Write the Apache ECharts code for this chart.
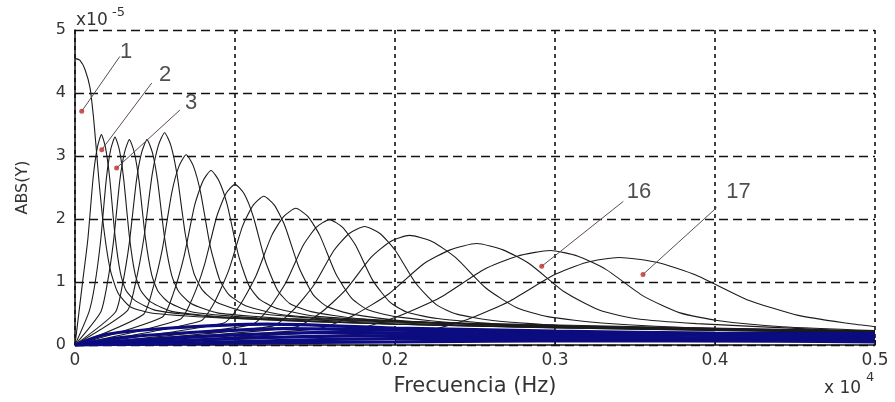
<!DOCTYPE html>
<html><head><meta charset="utf-8">
<script src="https://cdn.jsdelivr.net/npm/echarts@6.0.0/dist/echarts.min.js"></script>
<style>html,body{margin:0;padding:0;background:#fff}#c{width:895px;height:402px}</style>
</head><body><div id="c"></div>
<script>
// Axis ticks
const xTickLabels = ['0','0.1','0.2','0.3','0.4','0.5'];
const yTickLabels = ['0','1','2','3','4','5'];

// Curves (x in units of 1e4 Hz, y in units of 1e-5)
const c1 = [[0,4.55],[0.003,4.52],[0.0063,4.37],[0.0094,4.08],[0.0115,3.63],[0.013,3.2],[0.015,2.6],[0.018,1.85],[0.022,1.2],[0.027,0.82],[0.035,0.6],[0.05,0.5],[0.1,0.42],[0.2,0.33],[0.35,0.25],[0.5,0.2]];
const c2 = [[0,0],[0.0046,0.97],[0.008,1.67],[0.0114,2.67],[0.014,3.14],[0.0165,3.34],[0.019,3.14],[0.0216,2.67],[0.025,1.74],[0.0284,1.14],[0.0318,0.87],[0.0378,0.70],[0.0505,0.55],[0.0845,0.45],[0.15,0.37],[0.3,0.27],[0.5,0.2]];
const c3 = [[0,0],[0.0088,0.53],[0.0124,0.96],[0.016,1.65],[0.0196,2.64],[0.0223,3.10],[0.025,3.30],[0.0277,3.10],[0.0304,2.64],[0.034,1.72],[0.0376,1.12],[0.0412,0.86],[0.0475,0.68],[0.061,0.53],[0.097,0.44],[0.2,0.33],[0.35,0.26],[0.5,0.2]];
const c4 = [[0,0],[0.016,0.52],[0.020,0.95],[0.024,1.63],[0.028,2.61],[0.031,3.06],[0.034,3.26],[0.037,3.06],[0.040,2.61],[0.044,1.70],[0.048,1.11],[0.052,0.85],[0.059,0.67],[0.074,0.52],[0.114,0.43],[0.25,0.31],[0.5,0.2]];
const c5 = [[0,0],[0.0252,0.52],[0.0296,0.95],[0.034,1.63],[0.0384,2.61],[0.0417,3.06],[0.045,3.26],[0.0483,3.06],[0.0516,2.61],[0.056,1.70],[0.0604,1.11],[0.0648,0.85],[0.0725,0.66],[0.089,0.51],[0.133,0.42],[0.3,0.29],[0.5,0.21]];
const c6 = [[0,0],[0.0326,0.54],[0.0378,0.98],[0.043,1.69],[0.0482,2.70],[0.0521,3.17],[0.056,3.37],[0.0599,3.17],[0.0638,2.70],[0.069,1.75],[0.0742,1.15],[0.0794,0.88],[0.0885,0.68],[0.108,0.52],[0.16,0.41],[0.3,0.3],[0.5,0.21]];
const c7 = [[0,0],[0.0425,0.48],[0.0485,0.88],[0.0545,1.51],[0.0605,2.42],[0.065,2.84],[0.0695,3.02],[0.074,2.84],[0.0785,2.42],[0.0845,1.57],[0.0905,1.03],[0.0965,0.79],[0.107,0.62],[0.1295,0.48],[0.19,0.38],[0.35,0.27],[0.5,0.22]];
const c8 = [[0,0],[0.0544,0.44],[0.0612,0.80],[0.068,1.39],[0.0748,2.22],[0.0799,2.60],[0.085,2.77],[0.0901,2.60],[0.0952,2.22],[0.102,1.44],[0.1088,0.94],[0.1156,0.72],[0.1275,0.57],[0.153,0.45],[0.221,0.36],[0.5,0.22]];
const c9 = [[0,0],[0.0658,0.41],[0.0734,0.74],[0.081,1.28],[0.0886,2.04],[0.0943,2.40],[0.1,2.55],[0.1057,2.40],[0.1114,2.04],[0.119,1.33],[0.1266,0.87],[0.1342,0.66],[0.1475,0.53],[0.176,0.42],[0.252,0.33],[0.5,0.22]];
const c10 = [[0,0],[0.0784,0.38],[0.0872,0.68],[0.096,1.18],[0.1048,1.89],[0.1114,2.22],[0.118,2.36],[0.1246,2.22],[0.1312,1.89],[0.14,1.23],[0.1488,0.80],[0.1576,0.61],[0.173,0.49],[0.206,0.38],[0.294,0.30],[0.5,0.22]];
const c11 = [[0,0],[0.093,0.35],[0.103,0.63],[0.113,1.09],[0.123,1.74],[0.1305,2.04],[0.138,2.17],[0.1455,2.04],[0.153,1.74],[0.163,1.13],[0.173,0.74],[0.183,0.56],[0.2005,0.45],[0.238,0.35],[0.338,0.27],[0.5,0.22]];
const c12 = [[0,0],[0.1104,0.32],[0.1212,0.58],[0.132,1.0],[0.1428,1.59],[0.1509,1.87],[0.159,1.99],[0.1671,1.87],[0.1752,1.59],[0.186,1.03],[0.1968,0.68],[0.2076,0.52],[0.2265,0.42],[0.267,0.33],[0.375,0.25],[0.5,0.21]];
const c13 = [[0,0],[0.1234,0.30],[0.1362,0.55],[0.149,0.94],[0.1618,1.50],[0.1714,1.77],[0.181,1.88],[0.1906,1.77],[0.2002,1.50],[0.213,0.98],[0.2258,0.64],[0.2386,0.49],[0.261,0.39],[0.309,0.30],[0.437,0.23],[0.5,0.21]];
const c14 = [[0,0],[0.137,0.28],[0.153,0.50],[0.169,0.87],[0.185,1.39],[0.197,1.64],[0.209,1.74],[0.2234,1.64],[0.2378,1.39],[0.257,0.90],[0.2762,0.59],[0.2954,0.45],[0.329,0.35],[0.401,0.26],[0.5,0.21]];
const c15 = [[0,0],[0.152,0.26],[0.174,0.47],[0.196,0.81],[0.218,1.29],[0.2345,1.51],[0.251,1.61],[0.2675,1.51],[0.284,1.29],[0.306,0.84],[0.328,0.55],[0.35,0.42],[0.3885,0.34],[0.471,0.24],[0.5,0.22]];
const c16 = [[0,0],[0.173,0.24],[0.2004,0.44],[0.228,0.75],[0.2556,1.20],[0.2763,1.41],[0.297,1.50],[0.3144,1.41],[0.3318,1.20],[0.355,0.78],[0.3782,0.51],[0.4014,0.39],[0.442,0.29],[0.5,0.23]];
const c17 = [[0,0],[0.2176,0.22],[0.2448,0.40],[0.272,0.70],[0.2992,1.11],[0.3196,1.31],[0.34,1.39],[0.364,1.31],[0.388,1.11],[0.42,0.72],[0.452,0.47],[0.484,0.34],[0.5,0.29]];

// Dense blue band near the baseline
const b1 = [[0,0],[0.02,0.17],[0.06,0.27],[0.12,0.33],[0.2,0.27],[0.3,0.22],[0.4,0.19],[0.5,0.18]];
const b2 = [[0,0],[0.03,0.12],[0.08,0.21],[0.13,0.26],[0.22,0.23],[0.32,0.19],[0.42,0.17],[0.5,0.16]];
const b3 = [[0,0],[0.04,0.08],[0.1,0.16],[0.16,0.2],[0.25,0.18],[0.35,0.16],[0.5,0.13]];
const b4 = [[0,0],[0.06,0.06],[0.12,0.12],[0.2,0.15],[0.3,0.14],[0.4,0.11],[0.5,0.1]];
const b5 = [[0,0],[0.08,0.04],[0.16,0.09],[0.26,0.11],[0.38,0.09],[0.5,0.07]];
const b6 = [[0,0],[0.1,0.03],[0.2,0.05],[0.32,0.07],[0.44,0.06],[0.5,0.05]];

// Annotations
const annLabels = ['1','2','3','16','17'];
const annText = [[0.0319,4.65],[0.0563,4.28],[0.0725,3.84],[0.3525,2.43],[0.4147,2.43]];
const annTail = [[0.028,4.58],[0.048,4.16],[0.0656,3.73],[0.3427,2.28],[0.401,2.18]];
const annHead = [[0.0042,3.71],[0.0167,3.10],[0.026,2.81],[0.2917,1.25],[0.355,1.12]];

const blackCurves = [c1,c2,c3,c4,c5,c6,c7,c8,c9,c10,c11,c12,c13,c14,c15,c16,c17];
const blueCurves = [b1,b2,b3,b4,b5,b6];

const FONT = 'DejaVu Sans';
const series = [];
blackCurves.forEach((d,i)=>series.push({
  type:'line', name:'c'+(i+1), data:d, showSymbol:false, symbol:'none',
  smooth:0.2,
  lineStyle:{color:'#1c1c1c', width:1.1}, z:3, silent:true
}));
blueCurves.forEach((d,i)=>series.push({
  type:'line', name:'b'+(i+1), data:d, showSymbol:false, symbol:'none',
  smooth:0.3,
  lineStyle:{color:'#0c0c80', width:3.2}, z:4, silent:true
}));
annLabels.forEach((l,i)=>series.push({
  type:'line', data:[annTail[i], annHead[i]], showSymbol:false, symbol:'none',
  lineStyle:{color:'#5e4c4c', width:1}, z:6, silent:true
}));
series.push({
  type:'scatter', data:annHead, symbol:'circle', symbolSize:5,
  itemStyle:{color:'#b8302c'}, z:7, silent:true
});
series.push({
  type:'scatter', data:annText.map((p,i)=>({value:p, name:annLabels[i]})),
  symbolSize:2, itemStyle:{color:'rgba(255,255,255,0)'}, z:8, silent:true,
  label:{show:true, position:'inside', formatter:'{b}', fontSize:22,
    fontFamily:'Liberation Sans', color:'#222'},
  labelLayout:{hideOverlap:false}
});

const chart = echarts.init(document.getElementById('c'), null, {renderer:'canvas'});
chart.setOption({
  animation:false,
  backgroundColor:'#ffffff',
  grid:{left:75, right:20, top:30, bottom:56, containLabel:false},
  xAxis:{
    type:'value', min:0, max:0.5, interval:0.1,
    name:'Frecuencia (Hz)', nameLocation:'middle', nameGap:31,
    nameTextStyle:{fontFamily:FONT, fontSize:21, color:'#333'},
    axisLine:{show:true, onZero:false, lineStyle:{color:'#111', width:1.5}},
    axisTick:{show:true, inside:true, length:5, lineStyle:{color:'#111'}},
    axisLabel:{margin:7, fontFamily:FONT, fontSize:17, color:'#333',
      formatter:v=>xTickLabels[Math.round(v*10)]},
    splitLine:{show:true, lineStyle:{color:'#111', width:1.6, type:[4,4]}}
  },
  yAxis:{
    type:'value', min:0, max:5, interval:1,
    name:'ABS(Y)', nameLocation:'middle', nameGap:44, nameRotate:90,
    nameTextStyle:{fontFamily:FONT, fontSize:16, color:'#333'},
    axisLine:{show:true, lineStyle:{color:'#111', width:1.5}},
    axisTick:{show:true, inside:true, length:5, lineStyle:{color:'#111'}},
    axisLabel:{margin:9, fontFamily:FONT, fontSize:16, color:'#333',
      formatter:v=>yTickLabels[Math.round(v)]},
    splitLine:{show:true, lineStyle:{color:'#111', width:1.3, type:[9,5]}}
  },
  graphic:[
    {type:'text', left:76, top:12, style:{text:'x10', font:'17px "DejaVu Sans"', fill:'#333'}},
    {type:'text', left:112, top:6, style:{text:'-5', font:'13px "DejaVu Sans"', fill:'#333'}},
    {type:'text', left:824, top:380, style:{text:'x 10', font:'17px "DejaVu Sans"', fill:'#333'}},
    {type:'text', left:866, top:371, style:{text:'4', font:'13px "DejaVu Sans"', fill:'#333'}}
  ],
  series:series
});
</script>
</body></html>
